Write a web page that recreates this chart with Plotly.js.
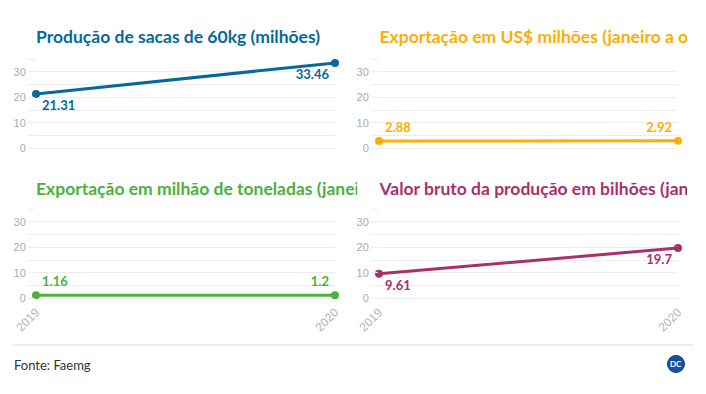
<!DOCTYPE html>
<html>
<head>
<meta charset="utf-8">
<script src="https://cdn.plot.ly/plotly-3.0.1.min.js"></script>
<style>html,body{margin:0;padding:0;background:#fff;}#chart{width:706px;height:394px;}</style>
</head>
<body>
<div id="chart"></div>
<script>
// ---- data ----
const years = ['2019', '2020'];
const producaoSacas = [21.31, 33.46];
const exportacaoUSD = [2.88, 2.92];
const exportacaoToneladas = [1.16, 1.2];
const valorBruto = [9.61, 19.7];
const titles = [
  'Produção de sacas de 60kg (milhões)',
  'Exportação em US$ milhões (janeiro a outubro)',
  'Exportação em milhão de toneladas (janeiro a outubro)',
  'Valor bruto da produção em bilhões (janeiro a outubro)'
];
const yTickVals = [0, 10, 20, 30];
const fonte = 'Fonte: Faemg';

// ---- style ----
const colors = ['#07699a', '#ffad00', '#4cb03d', '#a8306b'];
const series = [producaoSacas, exportacaoUSD, exportacaoToneladas, valorBruto];
const labelPos = [
  ['bottom right', 'bottom left'],
  ['top right', 'top left'],
  ['top right', 'top left'],
  ['bottom right', 'bottom left']
];
const W = 706, H = 394;
const px = v => v / W, py = v => 1 - v / H;
const colX = [[36, 335], [379, 678]];
const rowY = [[59, 152.1], [209, 302.1]];
const titleClip = [[36, 357], [379.5, 687]];
const titleY = [[27, 50], [179, 202]];
const grid = '#ececec';
const tickFont = {family: 'Liberation Sans, Arial, sans-serif', size: 11, color: '#ababab'};
const xTickFont = {family: 'Liberation Sans, Arial, sans-serif', size: 12, color: '#b3b3b3'};

const traces = [];
const layout = {
  width: W, height: H, autosize: false,
  margin: {l: 0, r: 0, t: 0, b: 0},
  paper_bgcolor: '#fff', plot_bgcolor: '#fff',
  showlegend: false,
  font: {family: 'Lato, sans-serif'},
  shapes: [], annotations: []
};

for (let i = 0; i < 4; i++) {
  const col = i % 2, row = Math.floor(i / 2);
  const n = i + 1, sfx = n === 1 ? '' : String(n);
  traces.push({
    type: 'scatter', mode: 'lines+markers+text',
    x: years, y: series[i],
    xaxis: 'x' + sfx, yaxis: 'y' + sfx,
    line: {color: colors[i], width: 3},
    marker: {color: colors[i], size: 8},
    text: series[i].map(String),
    textposition: labelPos[i],
    textfont: {family: 'Lato, sans-serif', size: 13, color: colors[i], weight: 700},
    cliponaxis: false, hoverinfo: 'x+y'
  });
  layout['xaxis' + sfx] = {
    domain: [px(colX[col][0]), px(colX[col][1])],
    anchor: 'y' + sfx, type: 'category', range: [0, 1],
    showgrid: true, gridcolor: grid, gridwidth: 1, zeroline: false, showline: false,
    ticks: '', showticklabels: row === 1, tickangle: -45, tickfont: xTickFont,
    fixedrange: true
  };
  layout['yaxis' + sfx] = {
    domain: [py(rowY[row][1]), py(rowY[row][0])],
    anchor: 'x' + sfx, range: [-1.5, 35],
    tickvals: yTickVals, showgrid: true, gridcolor: grid, gridwidth: 1,
    zeroline: false, showline: false,
    ticks: 'outside', ticklen: 7, tickcolor: grid, tickfont: tickFont,
    minor: {tickvals: [5, 15, 25, 35], showgrid: true, gridcolor: grid, ticks: 'outside', ticklen: 7, tickcolor: grid},
    fixedrange: true
  };
  // title strip (text clipped at the panel edge, as in the original)
  const tn = i + 5;
  traces.push({
    type: 'scatter', mode: 'text',
    x: [0], y: [0], text: [titles[i]],
    textposition: 'middle right',
    textfont: {family: 'Lato, sans-serif', size: 17.5, color: colors[i], weight: 700},
    xaxis: 'x' + tn, yaxis: 'y' + tn, cliponaxis: true, hoverinfo: 'skip'
  });
  layout['xaxis' + tn] = {domain: [px(titleClip[col][0]), px(titleClip[col][1])], anchor: 'y' + tn, range: [0, 1], visible: false, fixedrange: true};
  layout['yaxis' + tn] = {domain: [py(titleY[row][1]), py(titleY[row][0])], anchor: 'x' + tn, range: [-1, 1], visible: false, fixedrange: true};
}

// footer
layout.shapes.push({type: 'line', xref: 'paper', yref: 'paper', x0: px(12), x1: px(694), y0: py(345), y1: py(345), line: {color: '#dddddd', width: 1}});
layout.shapes.push({type: 'circle', xref: 'paper', yref: 'paper', x0: px(667.5), x1: px(684.5), y0: py(372.5), y1: py(355.5), fillcolor: '#1b4f9e', line: {color: '#123f85', width: 1}});
layout.annotations.push({xref: 'paper', yref: 'paper', x: px(12), y: py(365), xanchor: 'left', yanchor: 'middle', text: fonte, showarrow: false, font: {family: 'Lato, sans-serif', size: 13, color: '#333333'}});
layout.annotations.push({xref: 'paper', yref: 'paper', x: px(676), y: py(364), xanchor: 'center', yanchor: 'middle', text: 'DC', showarrow: false, font: {family: 'Lato, sans-serif', size: 8, color: '#ffffff', weight: 700}});

Plotly.newPlot('chart', traces, layout, {displayModeBar: false, staticPlot: true});
</script>
</body>
</html>
